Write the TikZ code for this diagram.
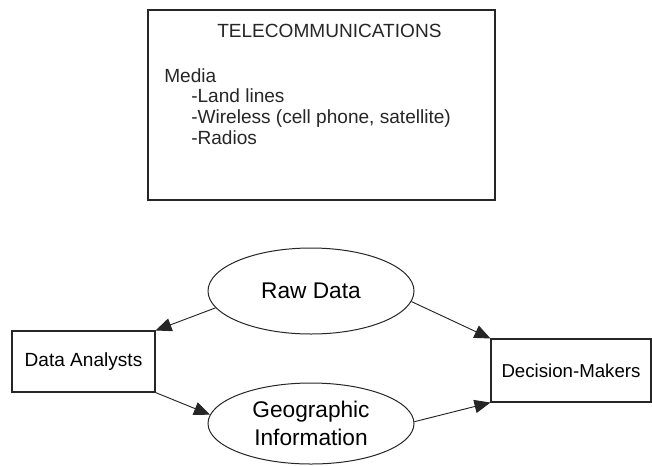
\documentclass[tikz,border=0pt]{standalone}
\usepackage{fontspec}
\setmainfont{Liberation Sans}
\usetikzlibrary{shapes.geometric,arrows.meta}
\begin{document}
\begin{tikzpicture}[x=0.75pt,y=-0.75pt,
  box/.style={draw=black!85,line width=0.8pt,rectangle,inner sep=0pt},
  oval/.style={draw=black!85,line width=0.75pt,ellipse,inner sep=0pt,minimum width=154.5pt,align=center,font=\fontsize{17}{21}\selectfont},
  txt/.style={inner sep=0pt,anchor=base west,font=\fontsize{14.3}{17}\selectfont,text=black!85},
  conn/.style={draw=black!85,line width=0.7pt,-{Triangle[length=12pt,width=10pt]}}]
\useasboundingbox (0,0) rectangle (652,465);
% top box
\node[box,minimum width=260.25pt,minimum height=142.5pt] (tele) at (321.5,105) {};
\node[txt] (title) at (217,37) {TELECOMMUNICATIONS};
\node[txt] (media) at (164,82) {Media};
\node[txt] (l1) at (191,102.5) {-Land lines};
\node[txt] (l2) at (191,123) {-Wireless (cell phone, satellite)};
\node[txt] (l3) at (191,144) {-Radios};
% lower diagram
\node[oval,minimum height=64.5pt] (raw) at (311,291) {Raw Data};
\node[oval,minimum height=60.75pt] (geo) at (311,423.5) {Geographic\\Information};
\node[box,minimum width=107.25pt,minimum height=45.75pt,font=\fontsize{14.3}{17}\selectfont] (da) at (83.5,361.5) {Data Analysts};
\node[box,minimum width=120pt,minimum height=47.25pt,font=\fontsize{14}{17}\selectfont] (dm) at (571,370.5) {Decision-Makers};
\draw[conn] (raw.190) -- (da.north east);
\draw[conn] (da.south east) -- (geo.175);
\draw[conn] (raw.354) -- (dm.north west);
\draw[conn] (geo.1) -- (dm.south west);
\end{tikzpicture}
\end{document}
